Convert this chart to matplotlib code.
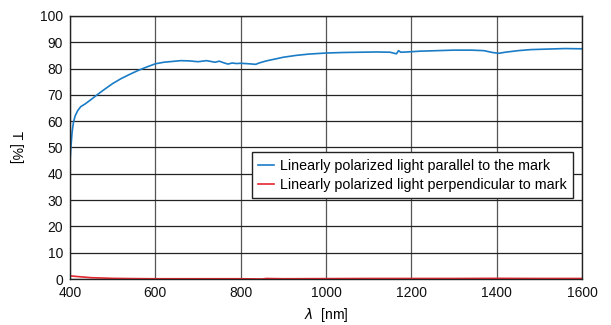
import matplotlib
import numpy as np

matplotlib.use('Agg')
import matplotlib.pyplot as plt

plt.rcParams['font.family'] = ['Liberation Sans', 'DejaVu Sans']
plt.rcParams['mathtext.fontset'] = 'dejavusans'

# wavelength [nm] and transmittance [%]
wl_parallel = [400, 402, 405, 408, 412, 418, 425, 435, 450, 465, 480, 500, 520, 540,
               560, 580, 600, 620, 640, 660, 680, 700, 720, 740, 750, 760, 770, 780,
               790, 800, 820, 835, 845, 860, 880, 900, 930, 960, 1000, 1040, 1080,
               1120, 1150, 1165, 1170, 1175, 1190, 1220, 1260, 1300, 1340, 1370,
               1390, 1405, 1420, 1450, 1480, 1520, 1560, 1600]
t_parallel = [45, 50, 56, 59.5, 62, 64, 65.5, 66.5, 68.3, 70.2, 72, 74.3, 76.2, 77.8,
              79.3, 80.6, 81.8, 82.4, 82.7, 83.0, 82.9, 82.6, 83.0, 82.4, 82.8, 82.2,
              81.7, 82.1, 81.9, 82.0, 81.8, 81.6, 82.2, 82.9, 83.6, 84.3, 85.0, 85.5,
              85.9, 86.1, 86.2, 86.3, 86.2, 85.6, 86.8, 86.2, 86.3, 86.6, 86.8, 87.0,
              87.0, 86.8, 86.1, 85.8, 86.2, 86.8, 87.2, 87.4, 87.6, 87.5]

wl_perp = [400, 420, 450, 500, 550, 600, 700, 800, 850, 860, 900, 1000, 1100, 1200,
           1300, 1400, 1500, 1600]
t_perp = [1.2, 0.9, 0.5, 0.25, 0.15, 0.1, 0.1, 0.1, 0.0, 0.2, 0.1, 0.15, 0.2, 0.2,
          0.2, 0.25, 0.2, 0.2]

fig = plt.figure(figsize=(6.11, 3.25), dpi=100)
ax = fig.add_axes([0.1146, 0.1415, 0.838, 0.8095])

ax.plot(wl_parallel, t_parallel, color='#1a7cc6', linewidth=1.2,
        label='Linearly polarized light parallel to the mark')
ax.plot(wl_perp, t_perp, color='#e3262e', linewidth=1.2,
        label='Linearly polarized light perpendicular to mark')

ax.set_xlim(400, 1600)
ax.set_ylim(0, 100)
ax.set_xticks(np.arange(400, 1601, 200))
ax.set_yticks(np.arange(0, 101, 10))
ax.tick_params(length=0, labelsize=10, colors='#111111', pad=5)
ax.yaxis.grid(True, color='#222222', linewidth=0.9)
ax.xaxis.grid(True, color='#555555', linewidth=0.9)
ax.set_axisbelow(True)
for s in ax.spines.values():
    s.set_color('#222222')
    s.set_linewidth(1.0)

ax.set_xlabel(r'$\lambda$  [nm]', fontsize=10, labelpad=4)
ax.set_ylabel('T [%]', fontsize=10, rotation=270, labelpad=22, va='bottom')

ax.legend(loc='lower right', bbox_to_anchor=(0.982, 0.308), fontsize=10.3,
          frameon=True, fancybox=False, edgecolor='#222222', framealpha=1,
          handlelength=1.1, handletextpad=0.4, borderpad=0.45, labelspacing=0.35,
          borderaxespad=0)

fig.savefig('out.png', dpi=100)
